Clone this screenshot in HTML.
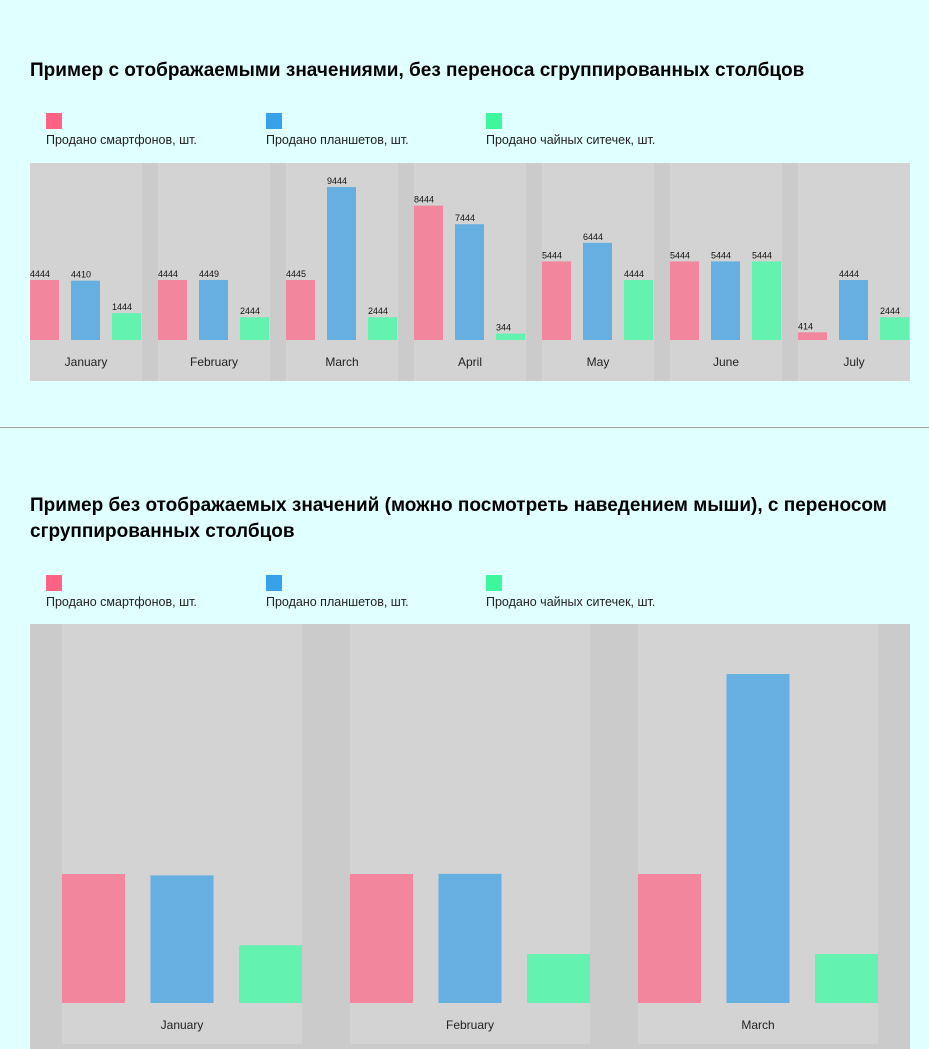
<!DOCTYPE html>
<html><head><meta charset="utf-8">
<style>
body{margin:0;width:929px;height:1049px;overflow:hidden;background:#e0ffff;font-family:"Liberation Sans","DejaVu Sans",sans-serif;position:relative}
h2{position:absolute;left:30px;margin:0;font-size:19px;font-weight:bold;color:#000;line-height:26px}
.leg{position:absolute;font-size:12.5px;color:#222}
.leg i{display:block;width:16px;height:16px;margin-bottom:4px}
.sep{position:absolute;left:0;top:427px;width:929px;height:1px;background:#a0a0a0}
svg{position:absolute;left:0;top:0}
</style></head><body>
<h2 style="top:58px">Пример с отображаемыми значениями, без переноса сгруппированных столбцов</h2>
<div class="leg" style="left:46px;top:113px"><i style="background:#ff6384"></i>Продано смартфонов, шт.</div>
<div class="leg" style="left:266px;top:113px"><i style="background:#36a2eb"></i>Продано планшетов, шт.</div>
<div class="leg" style="left:486px;top:113px"><i style="background:#3cf79c"></i>Продано чайных ситечек, шт.</div>
<div class="sep"></div>
<h2 style="top:493px;width:885px">Пример без отображаемых значений (можно посмотреть наведением мыши), с переносом сгруппированных столбцов</h2>
<div class="leg" style="left:46px;top:575px"><i style="background:#ff6384"></i>Продано смартфонов, шт.</div>
<div class="leg" style="left:266px;top:575px"><i style="background:#36a2eb"></i>Продано планшетов, шт.</div>
<div class="leg" style="left:486px;top:575px"><i style="background:#3cf79c"></i>Продано чайных ситечек, шт.</div>
<svg id="s" width="929" height="1049"></svg>
<script>
const months=["January","February","March","April","May","June","July"];
const smartphones=[4444,4444,4445,8444,5444,5444,414];
const tablets=[4410,4449,9444,7444,6444,5444,4444];
const strainers=[1444,2444,2444,344,4444,5444,2444];
const months2=["January","February","March"];
const smartphones2=[4444,4444,4444];
const tablets2=[4410,4449,9444];
const strainers2=[1444,2444,2444];
const colors=["#f2869c","#65b0e1","#63f2b0"];
const NS="http://www.w3.org/2000/svg";
const svg=document.getElementById('s');
function mk(t,a,p){const e=document.createElementNS(NS,t);for(const k in a)e.setAttribute(k,a[k]);(p||svg).appendChild(e);return e;}
function chart(o){
  const g=mk('g',{});
  
  
  const bg=mk('rect',{x:30,y:o.top,width:880,height:o.bottom-o.top,fill:'#cbcbcb'},g);
  
  
  const yScale=v=>v<2000?Math.max(4,o.k*v):o.k*(v-1220);
  o.cats.forEach((c,i)=>{
    const gx=o.x0+i*(o.gw+o.gap);
    const band=mk('rect',{x:gx,y:o.top,width:o.gw,height:o.bandBottom-o.top,fill:'#d3d3d3'},g);
    
    
    o.series.forEach((s,j)=>{
      const h=yScale(s[i]);
      const bx=gx+j*o.step;
      const r=mk('rect',{x:bx,y:o.base-h,width:o.bw,height:h,fill:colors[j]},g);
      
      
      if(o.labels){
        const t=mk('text',{x:bx,y:o.base-h-3,'font-size':9,fill:'#111'},g);
        t.textContent=s[i];
        
        
      }
    });
    const t=mk('text',{x:gx+o.gw/2,y:o.labelY,'font-size':12,'text-anchor':'middle',fill:'#222'},g);
    t.textContent=c;
    
    
  });
}
chart({name:'chart-1',cats:months,series:[smartphones,tablets,strainers],top:163,bottom:381,bandBottom:381,x0:30,gw:112,gap:16,bw:29,step:41,base:340,k:0.0186,labels:true,labelY:366});
chart({name:'chart-2',cats:months2,series:[smartphones2,tablets2,strainers2],top:624,bottom:1049,bandBottom:1044,x0:62,gw:240,gap:48,bw:63,step:88.5,base:1003,k:0.04,labels:false,labelY:1029});
</script>
</body></html>
